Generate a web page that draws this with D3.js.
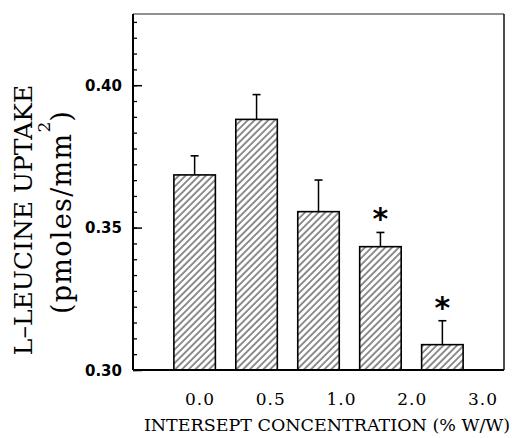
<!DOCTYPE html>
<html>
<head>
<meta charset="utf-8">
<script src="https://cdn.jsdelivr.net/npm/d3@7"></script>
<style>
  html, body { margin: 0; padding: 0; background: #fff; }
  svg { display: block; }
</style>
</head>
<body>
<svg id="chart" width="512" height="438"></svg>
<script>
// ---- data ----
const categories = ["0.0", "0.5", "1.0", "2.0", "3.0"];
const values     = [0.3685, 0.3880, 0.3556, 0.3433, 0.3089];
const errors     = [0.0067, 0.0087, 0.0111, 0.0050, 0.0084];
const significant = [false, false, false, true, true];
const yTickLabels = [0.30, 0.35, 0.40];
const yTitleLine1 = "L\u2013LEUCINE UPTAKE";
const yTitleLine2 = "(pmoles/mm";
const xTitle = "INTERSEPT CONCENTRATION (% W/W)";

// ---- layout ----
const svg = d3.select("#chart");
const pLeft = 133, pRight = 504, pTop = 14, pBottom = 370;

const y = d3.scaleLinear().domain([0.30, 0.425]).range([pBottom, pTop]);
const x = d3.scaleBand().domain(categories).range([pLeft, pRight])
  .paddingInner(0.33).paddingOuter(0.66);
const xLab = d3.scalePoint().domain(categories).range([200, 483]);

// hatch pattern
const defs = svg.append("defs");
const pat = defs.append("pattern")
  .attr("id", "hatch").attr("patternUnits", "userSpaceOnUse")
  .attr("width", 4.8).attr("height", 10)
  .attr("patternTransform", "rotate(45)");
pat.append("rect").attr("width", 4.8).attr("height", 10).attr("fill", "#fff");
pat.append("line").attr("x1", 1).attr("y1", 0).attr("x2", 1).attr("y2", 10)
  .attr("stroke", "#000").attr("stroke-width", 0.9);

// frame
svg.append("line").attr("x1", pLeft).attr("x2", pRight).attr("y1", pTop).attr("y2", pTop)
  .attr("stroke", "#222").attr("stroke-width", 1);
svg.append("line").attr("x1", pRight).attr("x2", pRight).attr("y1", pTop).attr("y2", pBottom)
  .attr("stroke", "#000").attr("stroke-width", 1.4);

// bars
const g = svg.append("g");
g.selectAll("rect.bar").data(categories).join("rect")
  .attr("class", "bar")
  .attr("x", d => x(d))
  .attr("width", x.bandwidth())
  .attr("y", (d, i) => y(values[i]))
  .attr("height", (d, i) => y(0.30) - y(values[i]))
  .attr("fill", "url(#hatch)")
  .attr("stroke", "#000").attr("stroke-width", 1.6);

// error bars
g.selectAll("line.err").data(categories).join("line")
  .attr("class", "err")
  .attr("x1", d => x(d) + x.bandwidth() / 2).attr("x2", d => x(d) + x.bandwidth() / 2)
  .attr("y1", (d, i) => y(values[i])).attr("y2", (d, i) => y(values[i] + errors[i]))
  .attr("stroke", "#000").attr("stroke-width", 1.5);
g.selectAll("line.cap").data(categories).join("line")
  .attr("class", "cap")
  .attr("x1", d => x(d) + x.bandwidth() / 2 - 4).attr("x2", d => x(d) + x.bandwidth() / 2 + 4)
  .attr("y1", (d, i) => y(values[i] + errors[i])).attr("y2", (d, i) => y(values[i] + errors[i]))
  .attr("stroke", "#000").attr("stroke-width", 1.6);

// asterisks
g.selectAll("text.sig").data(categories.filter((d, i) => significant[i])).join("text")
  .attr("class", "sig")
  .attr("x", d => x(d) + x.bandwidth() / 2)
  .attr("y", d => { const i = categories.indexOf(d); return y(values[i] + errors[i]) - 3; })
  .attr("text-anchor", "middle")
  .attr("font-family", "DejaVu Sans").attr("font-weight", "bold").attr("font-size", 30)
  .text("*");

// y axis with minor ticks
const minorTicks = d3.range(0, 23).map(i => 0.30 + i * 0.05 / 9);
const yAxis = d3.axisRight(y).tickValues(minorTicks).tickSize(4).tickFormat("");
const ya = svg.append("g").attr("transform", `translate(${pLeft},0)`).call(yAxis);
ya.select(".domain").remove();
ya.selectAll("line").attr("stroke", "#000").attr("stroke-width", 1.3);
const yMajor = d3.axisRight(y).tickValues(yTickLabels).tickSize(9).tickFormat("");
const ym = svg.append("g").attr("transform", `translate(${pLeft},0)`).call(yMajor);
ym.select(".domain").remove();
ym.selectAll("line").attr("stroke", "#000").attr("stroke-width", 1.5);
svg.append("line").attr("x1", pLeft).attr("x2", pLeft).attr("y1", pTop).attr("y2", pBottom)
  .attr("stroke", "#000").attr("stroke-width", 2);
svg.selectAll("text.ytl").data(yTickLabels).join("text")
  .attr("class", "ytl")
  .attr("x", 122).attr("y", d => y(d) + 5.5)
  .attr("text-anchor", "end")
  .attr("font-family", "DejaVu Sans").attr("font-weight", "bold").attr("font-size", 15)
  .text(d => d3.format(".2f")(d));

// x axis baseline
svg.append("line").attr("x1", pLeft).attr("x2", pRight).attr("y1", pBottom).attr("y2", pBottom)
  .attr("stroke", "#000").attr("stroke-width", 2);

// x labels
svg.selectAll("text.xtl").data(categories).join("text")
  .attr("class", "xtl")
  .attr("x", d => xLab(d)).attr("y", 405)
  .attr("text-anchor", "middle")
  .attr("font-family", "DejaVu Serif").attr("font-size", 17).attr("letter-spacing", 1)
  .text(d => d);

// x title
svg.append("text")
  .attr("x", 327).attr("y", 431)
  .attr("text-anchor", "middle")
  .attr("font-family", "DejaVu Serif").attr("font-size", 17.5)
  .text(xTitle);

// y title
svg.append("text")
  .attr("transform", "translate(32,220) rotate(-90)")
  .attr("text-anchor", "middle")
  .attr("font-family", "DejaVu Serif").attr("font-size", 25)
  .text(yTitleLine1);
const t2 = svg.append("text")
  .attr("transform", "translate(71,212) rotate(-90)")
  .attr("text-anchor", "middle")
  .attr("font-family", "DejaVu Serif").attr("font-size", 27).attr("letter-spacing", 1.3);
t2.append("tspan").text(yTitleLine2);
t2.append("tspan").attr("dy", -21).attr("font-size", 17).attr("letter-spacing", 0).text("2");
t2.append("tspan").attr("dy", 21).text(")");
</script>
</body>
</html>
